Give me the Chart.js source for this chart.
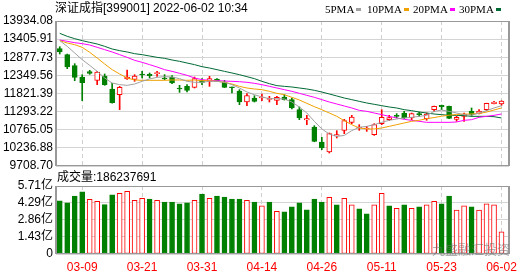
<!DOCTYPE html>
<html>
<head>
<meta charset="utf-8">
<script src="https://cdn.jsdelivr.net/npm/chart.js@4.4.1/dist/chart.umd.min.js"></script>
<style>
  html, body { margin: 0; padding: 0; background: #fff; }
  #wrap { position: relative; width: 530px; height: 276px; overflow: hidden;
          font-family: 'Liberation Sans', 'Noto Sans CJK SC', sans-serif; }
  #wrap canvas { position: absolute; left: 0; top: 0; }
  .txt { position: absolute; white-space: nowrap; color: #000; font-size: 12px; line-height: 12px; z-index: 2; }
  .leg { position: absolute; top: 4px; white-space: nowrap; font-family: 'Liberation Serif', serif;
         font-size: 11px; line-height: 11px; color: #000; z-index: 2; }
  .sw { display: inline-block; width: 5px; height: 3px; margin-left: 2px; vertical-align: 2px; }
  .mark { position: absolute; left: 432px; top: 243px; font-size: 13px; line-height: 14px;
          color: rgba(110,110,110,.55); white-space: nowrap; z-index: 2; }
</style>
</head>
<body>
<div id="wrap">
  <canvas id="price" width="530" height="276"></canvas>
  <canvas id="volume" width="530" height="276"></canvas>
  <div class="txt" style="left:55px;top:2px;">深证成指[399001] 2022-06-02 10:34</div>
  <div class="leg" style="left:325px;">5PMA<span class="sw" style="background:#a0a0a0"></span></div>
  <div class="leg" style="left:367px;">10PMA<span class="sw" style="background:#f0a000"></span></div>
  <div class="leg" style="left:413px;">20PMA<span class="sw" style="background:#ff00ff"></span></div>
  <div class="leg" style="left:459px;">30PMA<span class="sw" style="background:#006a35"></span></div>
  <div class="txt" style="left:57px;top:171px;">成交量:186237691</div>
  <div class="mark">九盛融汇投资</div>
</div>
<script>
const dates = ['03-04','03-07','03-08','03-09','03-10','03-11','03-14','03-15','03-16','03-17',
  '03-18','03-21','03-22','03-23','03-24','03-25','03-28','03-29','03-30','03-31',
  '04-01','04-06','04-07','04-08','04-11','04-12','04-13','04-14','04-15','04-18',
  '04-19','04-20','04-21','04-22','04-25','04-26','04-27','04-28','04-29','05-05',
  '05-06','05-09','05-10','05-11','05-12','05-13','05-16','05-17','05-18','05-19',
  '05-20','05-23','05-24','05-25','05-26','05-27','05-30','05-31','06-01','06-02'];
const dateTicks = [3, 11, 19, 27, 35, 43, 51, 59];
const priceTicks = [9708.70, 10236.88, 10765.05, 11293.22, 11821.39, 12349.56, 12877.73, 13405.91, 13934.08];
const volTicks = [0, 1.43, 2.86, 4.29, 5.71];

const open = [13128,12953,12632,12302,12458,12205,12331,11953,11787,12244,
  12234,12390,12380,12399,12254,12302,11982,12030,12001,12195,
  12176,12244,12147,12005,11895,11574,11690,11690,11651,11622,
  11720,11642,11350,11050,10845,10408,10117,10583,10748,10981,
  10816,10787,10622,10942,11060,11186,11253,11108,11234,11089,
  11350,11480,11445,11069,11157,11302,11244,11350,11525,11515];
const high = [13186,12970,12691,12370,12497,12467,12390,12118,12030,12506,
  12370,12467,12419,12467,12370,12341,12059,12079,12302,12254,
  12322,12254,12205,12010,11933,11817,11758,11807,11739,11739,
  11787,11690,11428,11186,10884,10544,10671,10738,11069,11186,
  10913,10864,10942,11350,11186,11234,11302,11253,11283,11253,
  11455,11485,11455,11157,11253,11399,11350,11540,11593,11610];
const low = [12972,12545,12195,11613,12380,12079,12060,11540,11350,12230,
  12176,12273,12273,12322,12225,12108,11855,11865,11982,12079,
  12030,12170,11995,11836,11496,11467,11574,11613,11574,11496,
  11630,11370,11059,10913,10415,10185,10088,10525,10651,10942,
  10748,10719,10602,10913,11030,11108,11089,11059,11157,11040,
  11302,11350,11089,11011,11011,11157,11224,11322,11515,11477];
const close = [13031,12594,12292,12137,12409,12448,12079,11554,12001,12302,
  12331,12360,12341,12429,12244,12127,11953,11914,12254,12147,
  12254,12176,12001,11990,11574,11758,11593,11720,11681,11710,
  11642,11399,11108,11089,10428,10233,10651,10622,11030,11137,
  10845,10816,10913,11127,11120,11157,11108,11234,11205,11224,
  11448,11440,11098,11127,11224,11210,11312,11535,11574,11603];
// 成交量, 亿
const vol = [4.46,4.29,4.87,5.21,4.60,4.43,4.15,4.96,5.10,5.26,
  4.51,4.68,4.62,4.51,4.37,4.37,4.21,4.29,4.51,5.04,
  4.68,4.87,4.79,4.62,4.62,4.51,4.37,4.04,4.37,3.59,
  3.54,3.96,4.29,3.70,4.62,4.37,4.76,4.12,4.68,4.12,
  3.79,3.37,4.12,5.10,4.04,3.84,4.12,3.84,3.96,4.12,
  4.43,4.21,4.87,3.68,4.04,3.96,3.68,4.21,4.12,1.862];

const ma5 = [13361,13196,13001,12807,12642,12467,12273,12127,12079,12059,
  12098,12176,12244,12293,12312,12302,12254,12176,12147,12147,
  12176,12176,12147,12079,11982,11865,11787,11720,11671,11671,
  11661,11574,11428,11253,11011,10790,10640,10570,10600,10740,
  10835,10864,10913,10981,11040,11079,11108,11127,11156,11185,
  11300,11340,11302,11253,11205,11185,11253,11321,11399,11467];
const ma10 = [13361,13293,13244,13167,13021,12856,12681,12516,12390,12273,
  12215,12205,12205,12205,12205,12215,12215,12205,12215,12195,
  12195,12176,12147,12098,12030,11982,11953,11933,11885,11826,
  11787,11710,11632,11535,11438,11350,11253,11156,11030,10913,
  10816,10787,10787,10816,10864,10913,10962,11011,11040,11088,
  11120,11160,11190,11210,11220,11225,11240,11280,11340,11400];
const ma20 = [13380,13341,13303,13274,13235,13167,13099,13031,12953,12875,
  12788,12730,12662,12594,12516,12467,12409,12351,12273,12225,
  12205,12195,12185,12176,12166,12147,12118,12079,12030,11982,
  11933,11885,11826,11768,11710,11642,11574,11515,11457,11399,
  11331,11302,11253,11205,11156,11108,11069,11040,11011,10981,
  10981,10981,10981,10991,11040,11059,11127,11156,11185,11224];
const ma30 = [13575,13487,13419,13361,13312,13264,13196,13118,13070,13031,
  12982,12953,12914,12875,12846,12798,12759,12710,12662,12603,
  12564,12516,12467,12419,12370,12312,12254,12176,12108,12050,
  12030,12011,11982,11953,11914,11865,11807,11749,11690,11642,
  11593,11545,11506,11467,11428,11399,11350,11321,11282,11253,
  11224,11205,11185,11185,11176,11156,11156,11156,11146,11108];

const RED = '#ff0000';
const GREEN = '#008000';
const FONT = "'Liberation Sans', 'Noto Sans CJK SC', sans-serif";

Chart.defaults.animation = false;
Chart.defaults.font.family = FONT;

const isUp = i => close[i] >= open[i];
const volUp = i => (i === 0 ? isUp(0) : close[i] >= close[i - 1]);
const xy = arr => arr.map((y, x) => ({ x, y }));

const frame = {
  id: 'frame',
  afterDraw(chart) {
    const { ctx, chartArea: a } = chart;
    ctx.save();
    ctx.strokeStyle = '#999';
    ctx.lineWidth = 1;
    ctx.strokeRect(a.left + 0.5, a.top + 0.5, a.right - a.left - 1, a.bottom - a.top - 1);
    ctx.fillStyle = '#999';
    ctx.fillRect(a.left - 1, a.top, 2, a.bottom - a.top);
    ctx.fillRect(a.right - 1, a.top, 2, a.bottom - a.top);
    ctx.restore();
  },
};

// the x box height holds the date labels (0 for the price panel)
function xScale(labelHeight) {
  return {
    type: 'linear',
    min: -0.5,
    max: 60,
    offset: false,
    afterBuildTicks: s => { s.ticks = dateTicks.map(value => ({ value })); },
    afterFit: s => { s.height = labelHeight; },
    grid: { color: '#cfcfcf', drawTicks: false, offset: false },
    border: { display: false, dash: [4, 3] },
    ticks: {
      display: labelHeight > 0,
      autoSkip: false,
      maxRotation: 0,
      padding: 6,
      color: RED,
      font: { size: 12 },
      callback: v => dates[v],
    },
  };
}

function yScale(ticks, fmtTick) {
  return {
    min: ticks[0],
    max: ticks[ticks.length - 1],
    afterBuildTicks: s => { s.ticks = ticks.map(value => ({ value })); },
    afterFit: s => { s.width = 56; },
    grid: { color: '#d4d4d4', drawTicks: false },
    border: { display: false },
    ticks: { color: '#000', padding: 3, autoSkip: false, font: { size: 12 }, callback: fmtTick },
  };
}

function line(label, data, color) {
  return {
    type: 'line', label, data: xy(data), borderColor: color, borderWidth: 1,
    pointRadius: 0, tension: 0, order: 0,
  };
}

new Chart(document.getElementById('price'), {
  type: 'bar',
  data: {
    datasets: [
      line('5PMA', ma5, '#a0a0a0'),
      line('10PMA', ma10, '#f0a000'),
      line('20PMA', ma20, '#ff00ff'),
      line('30PMA', ma30, '#006a35'),
      {
        label: 'body',
        data: open.map((o, i) => ({ x: i, y: [o, close[i]] })),
        backgroundColor: c => (isUp(c.dataIndex) ? '#fff' : GREEN),
        borderColor: c => (isUp(c.dataIndex) ? RED : GREEN),
        borderWidth: 1,
        borderSkipped: false,
        barThickness: 5,
        minBarLength: 1,
        grouped: false,
        order: 1,
      },
      {
        label: 'wick',
        data: low.map((l, i) => ({ x: i, y: [l, high[i]] })),
        backgroundColor: c => (isUp(c.dataIndex) ? RED : GREEN),
        barThickness: 1,
        grouped: false,
        order: 2,
      },
    ],
  },
  options: {
    responsive: false,
    devicePixelRatio: 1,
    layout: { padding: { top: 21, right: 21, bottom: 110, left: 0 } },
    plugins: { legend: { display: false }, tooltip: { enabled: false } },
    scales: {
      x: xScale(0),
      y: yScale(priceTicks, v => v.toFixed(2)),
    },
  },
  plugins: [frame],
});

new Chart(document.getElementById('volume'), {
  type: 'bar',
  data: {
    datasets: [{
      label: '成交量',
      data: xy(vol),
      backgroundColor: c => (volUp(c.dataIndex) ? '#fff' : GREEN),
      borderColor: c => (volUp(c.dataIndex) ? RED : GREEN),
      borderWidth: 1,
      borderSkipped: false,
      barThickness: 5,
      grouped: false,
    }],
  },
  options: {
    responsive: false,
    devicePixelRatio: 1,
    layout: { padding: { top: 186, right: 21, bottom: 0, left: 0 } },
    plugins: { legend: { display: false }, tooltip: { enabled: false } },
    scales: {
      x: xScale(22),
      y: yScale(volTicks, v => (v === 0 ? '0' : v.toFixed(2) + '亿')),
    },
  },
  plugins: [frame],
});
</script>
</body>
</html>
